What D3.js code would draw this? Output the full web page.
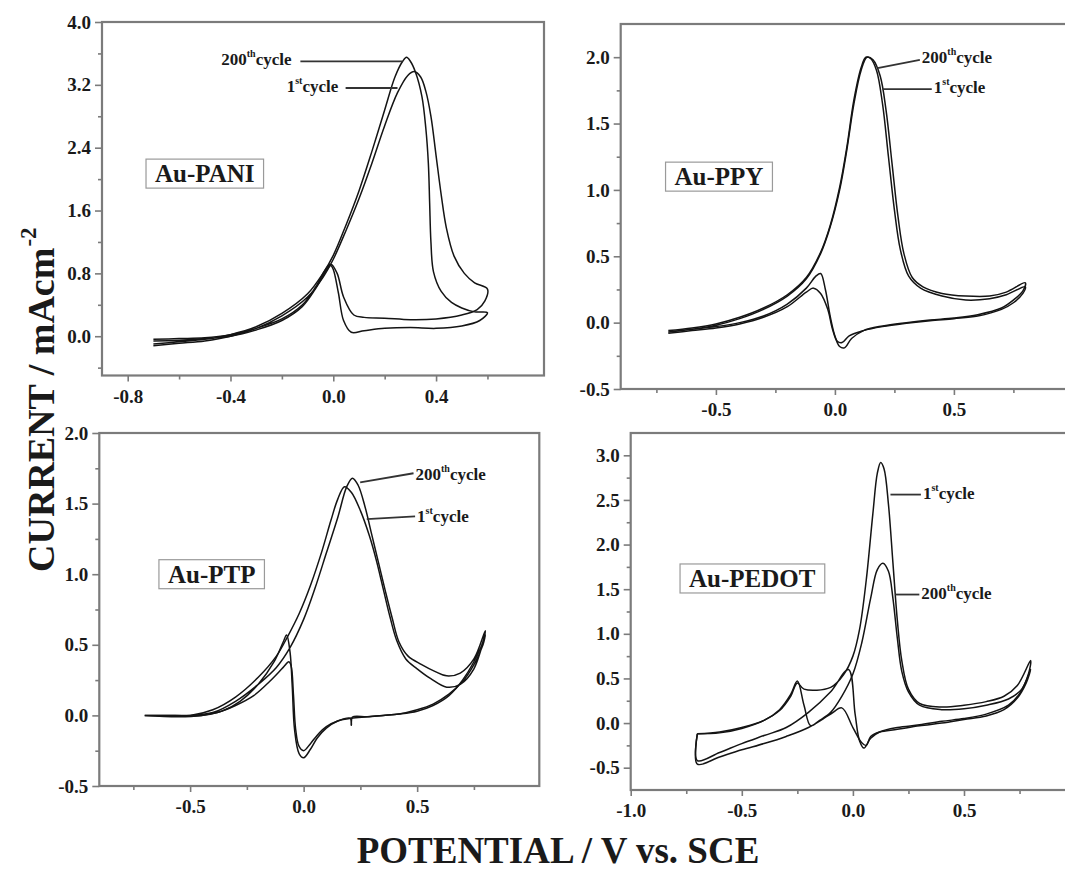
<!DOCTYPE html>
<html>
<head>
<meta charset="utf-8">
<script src="https://cdn.jsdelivr.net/npm/d3@7"></script>
<style>
  body { margin: 0; background: #fff; }
  svg { display: block; }
  text { font-family: "Liberation Serif", "Times New Roman", serif; font-weight: bold; fill: #1a1a1a; }
</style>
</head>
<body>
<svg id="chart" width="1065" height="873"></svg>
<script>
// ---- Cyclic voltammograms: [potential (V vs SCE), current (mA cm^-2)] ----
// Each cycle is traced as a closed loop: anodic sweep, then the return sweep.

const pani1st = [
  [-0.7,-0.12],[-0.6,-0.09],[-0.5,-0.06],[-0.4,0.0],[-0.3,0.1],[-0.2,0.26],[-0.1,0.5],[-0.04,0.75],
  [0.0,0.98],[0.05,1.35],[0.1,1.75],[0.15,2.2],[0.2,2.68],[0.25,3.1],[0.29,3.32],[0.315,3.37],
  [0.34,3.3],[0.36,3.12],[0.38,2.8],[0.4,2.3],[0.42,1.8],[0.44,1.38],[0.47,1.02],[0.51,0.8],
  [0.55,0.68],[0.6,0.6],
  [0.59,0.45],[0.56,0.34],[0.5,0.27],[0.4,0.22],[0.3,0.21],[0.2,0.23],[0.12,0.24],[0.08,0.27],
  [0.04,0.5],[0.015,0.8],[-0.01,0.92],[-0.03,0.85],[-0.07,0.62],[-0.12,0.4],[-0.2,0.22],
  [-0.3,0.1],[-0.4,0.02],[-0.5,-0.02],[-0.6,-0.03],[-0.7,-0.04]
];
const pani200th = [
  [-0.7,-0.1],[-0.6,-0.07],[-0.5,-0.04],[-0.4,0.02],[-0.3,0.12],[-0.2,0.29],[-0.1,0.54],[-0.04,0.8],
  [0.0,1.03],[0.05,1.42],[0.1,1.85],[0.15,2.35],[0.2,2.88],[0.24,3.3],[0.27,3.5],[0.285,3.55],
  [0.3,3.5],[0.32,3.36],[0.345,3.05],[0.36,2.65],[0.37,2.2],[0.375,1.7],[0.38,1.2],[0.39,0.82],
  [0.42,0.57],[0.46,0.43],[0.5,0.36],[0.55,0.31],[0.6,0.3],
  [0.57,0.2],[0.5,0.13],[0.4,0.1],[0.3,0.11],[0.2,0.1],[0.12,0.07],[0.07,0.05],[0.04,0.2],
  [0.02,0.55],[0.0,0.85],[-0.01,0.9],[-0.03,0.82],[-0.07,0.6],[-0.12,0.38],[-0.2,0.2],
  [-0.3,0.08],[-0.4,0.0],[-0.5,-0.03],[-0.6,-0.05],[-0.7,-0.06]
];

const ppy1st = [
  [-0.7,-0.07],[-0.6,-0.05],[-0.5,-0.02],[-0.4,0.03],[-0.3,0.1],[-0.2,0.2],[-0.12,0.33],[-0.06,0.52],
  [-0.02,0.72],[0.02,1.0],[0.05,1.3],[0.08,1.65],[0.11,1.9],[0.135,2.0],[0.16,1.98],[0.19,1.86],
  [0.215,1.6],[0.24,1.2],[0.265,0.8],[0.29,0.52],[0.325,0.34],[0.37,0.27],[0.45,0.22],[0.55,0.2],
  [0.65,0.2],[0.72,0.23],[0.8,0.3],
  [0.79,0.24],[0.75,0.17],[0.7,0.11],[0.6,0.06],[0.5,0.035],[0.4,0.02],[0.3,0.0],[0.2,-0.025],
  [0.12,-0.06],[0.07,-0.12],[0.04,-0.19],[0.02,-0.18],[0.0,-0.1],[-0.02,0.05],[-0.04,0.25],
  [-0.06,0.37],[-0.08,0.35],[-0.12,0.26],[-0.2,0.14],[-0.3,0.05],[-0.4,0.0],[-0.5,-0.03],
  [-0.6,-0.05],[-0.7,-0.07]
];
const ppy200th = [
  [-0.7,-0.06],[-0.6,-0.04],[-0.5,-0.01],[-0.4,0.04],[-0.3,0.11],[-0.2,0.21],[-0.12,0.34],[-0.06,0.53],
  [-0.02,0.73],[0.02,1.02],[0.05,1.32],[0.08,1.68],[0.11,1.92],[0.13,2.0],[0.15,1.99],[0.175,1.9],
  [0.2,1.65],[0.225,1.25],[0.25,0.85],[0.275,0.55],[0.31,0.35],[0.36,0.26],[0.45,0.2],[0.55,0.17],
  [0.65,0.18],[0.72,0.21],[0.8,0.27],
  [0.79,0.22],[0.75,0.15],[0.7,0.1],[0.6,0.05],[0.5,0.03],[0.4,0.015],[0.3,-0.005],[0.2,-0.03],
  [0.12,-0.06],[0.06,-0.1],[0.03,-0.15],[0.01,-0.14],[-0.01,-0.05],[-0.03,0.1],[-0.06,0.22],
  [-0.09,0.26],[-0.12,0.23],[-0.2,0.12],[-0.3,0.04],[-0.4,-0.01],[-0.5,-0.04],[-0.6,-0.06],
  [-0.7,-0.08]
];

const ptp1st = [
  [-0.7,0.0],[-0.6,0.0],[-0.5,0.0],[-0.4,0.04],[-0.3,0.13],[-0.2,0.27],[-0.12,0.42],[-0.07,0.56],
  [-0.02,0.72],[0.03,0.92],[0.08,1.16],[0.12,1.38],[0.15,1.53],[0.18,1.62],[0.21,1.58],[0.25,1.45],
  [0.29,1.27],[0.32,1.1],[0.35,0.9],[0.38,0.7],[0.41,0.53],[0.45,0.4],[0.5,0.33],[0.56,0.26],
  [0.63,0.2],[0.69,0.22],[0.75,0.33],[0.8,0.57],
  [0.79,0.5],[0.75,0.36],[0.7,0.24],[0.64,0.15],[0.57,0.08],[0.5,0.04],[0.42,0.01],[0.35,0.0],
  [0.28,-0.01],[0.21,-0.02],[0.15,-0.04],[0.1,-0.08],[0.06,-0.14],[0.03,-0.2],[0.0,-0.25],
  [-0.02,-0.22],[-0.035,-0.1],[-0.045,0.15],[-0.055,0.35],[-0.065,0.38],[-0.09,0.34],[-0.15,0.24],
  [-0.22,0.14],[-0.3,0.07],[-0.38,0.02],[-0.45,0.0],[-0.55,-0.005],[-0.7,0.0]
];
const ptp200th = [
  [-0.7,0.0],[-0.6,0.0],[-0.5,0.0],[-0.4,0.02],[-0.3,0.1],[-0.2,0.22],[-0.12,0.34],[-0.06,0.48],
  [0.0,0.68],[0.05,0.9],[0.1,1.15],[0.15,1.4],[0.19,1.62],[0.215,1.68],[0.24,1.63],[0.27,1.48],
  [0.3,1.28],[0.33,1.08],[0.36,0.88],[0.39,0.69],[0.42,0.52],[0.46,0.42],[0.52,0.36],[0.58,0.31],
  [0.63,0.28],[0.69,0.3],[0.75,0.4],[0.8,0.6],
  [0.79,0.52],[0.75,0.38],[0.7,0.25],[0.64,0.14],[0.57,0.07],[0.5,0.03],[0.42,0.01],[0.35,0.0],
  [0.28,-0.01],[0.215,-0.012],[0.21,-0.07],[0.205,-0.02],[0.15,-0.04],[0.1,-0.09],[0.06,-0.16],
  [0.03,-0.24],[0.0,-0.3],[-0.02,-0.27],[-0.04,-0.1],[-0.05,0.2],[-0.06,0.45],[-0.075,0.57],
  [-0.09,0.52],[-0.13,0.38],[-0.2,0.22],[-0.28,0.1],[-0.36,0.03],[-0.45,0.0],[-0.55,-0.01],[-0.7,0.0]
];

const pedot1st = [
  [-0.7,-0.12],[-0.6,-0.11],[-0.5,-0.06],[-0.4,0.03],[-0.33,0.14],[-0.28,0.3],[-0.25,0.45],
  [-0.22,0.38],[-0.1,0.4],[-0.04,0.55],[0.0,0.75],[0.03,1.05],[0.06,1.6],[0.09,2.35],[0.11,2.8],
  [0.125,2.92],[0.14,2.85],[0.16,2.45],[0.18,1.8],[0.2,1.15],[0.22,0.7],[0.25,0.38],[0.3,0.22],
  [0.4,0.18],[0.5,0.2],[0.6,0.24],[0.68,0.3],[0.74,0.42],[0.8,0.7],
  [0.79,0.55],[0.75,0.33],[0.7,0.2],[0.6,0.1],[0.5,0.05],[0.4,0.02],[0.3,-0.02],[0.2,-0.05],
  [0.12,-0.1],[0.08,-0.17],[0.05,-0.28],[0.03,-0.2],[0.01,0.1],[-0.02,0.6],[-0.1,0.35],
  [-0.2,0.12],[-0.3,-0.05],[-0.4,-0.14],[-0.5,-0.23],[-0.6,-0.33],[-0.7,-0.42],[-0.7,-0.12]
];
const pedot200th = [
  [-0.7,-0.12],[-0.6,-0.1],[-0.5,-0.05],[-0.4,0.03],[-0.33,0.15],[-0.28,0.32],[-0.25,0.47],
  [-0.22,0.2],[-0.19,-0.03],[-0.15,0.03],[-0.1,0.12],[-0.05,0.3],[0.0,0.55],[0.04,0.9],
  [0.08,1.4],[0.11,1.72],[0.135,1.79],[0.16,1.7],[0.18,1.4],[0.2,0.95],[0.22,0.58],[0.25,0.35],
  [0.3,0.2],[0.4,0.15],[0.5,0.16],[0.6,0.2],[0.7,0.27],[0.76,0.38],[0.8,0.6],
  [0.78,0.45],[0.74,0.28],[0.68,0.15],[0.6,0.08],[0.5,0.04],[0.4,0.0],[0.3,-0.03],[0.2,-0.07],
  [0.12,-0.1],[0.08,-0.15],[0.06,-0.25],[0.04,-0.22],[0.0,-0.05],[-0.05,0.17],[-0.1,0.1],
  [-0.2,-0.05],[-0.3,-0.15],[-0.4,-0.23],[-0.5,-0.3],[-0.6,-0.38],[-0.7,-0.46],[-0.7,-0.12]
];

// ---- Tick values ----
const paniXTicks = [-0.8, -0.4, 0.0, 0.4];
const paniXMinor = [-0.6, -0.2, 0.2, 0.6];
const paniYTicks = [0.0, 0.8, 1.6, 2.4, 3.2, 4.0];
const paniYMinor = [-0.4, 0.4, 1.2, 2.0, 2.8, 3.6];

const ppyXTicks = [-0.5, 0.0, 0.5];
const ppyXMinor = [-0.75, -0.25, 0.25, 0.75];
const ppyYTicks = [-0.5, 0.0, 0.5, 1.0, 1.5, 2.0];
const ppyYMinor = [-0.25, 0.25, 0.75, 1.25, 1.75];

const ptpXTicks = [-0.5, 0.0, 0.5];
const ptpXMinor = [-0.75, -0.25, 0.25, 0.75];
const ptpYTicks = [-0.5, 0.0, 0.5, 1.0, 1.5, 2.0];
const ptpYMinor = [-0.25, 0.25, 0.75, 1.25, 1.75];

const pedotXTicks = [-1.0, -0.5, 0.0, 0.5];
const pedotXMinor = [-0.75, -0.25, 0.25, 0.75];
const pedotYTicks = [-0.5, 0.0, 0.5, 1.0, 1.5, 2.0, 2.5, 3.0];
const pedotYMinor = [-0.25, 0.25, 0.75, 1.25, 1.75, 2.25, 2.75];

// ---- Cycle call-outs: text anchor and leader line, in data units ----
const paniNotes = [
  { main: "200", sup: "th", at: [-0.147, 3.45], anchor: "end", from: [-0.128, 3.5], to: [0.269, 3.5] },
  { main: "1", sup: "st", at: [0.035, 3.11], anchor: "end", from: [0.048, 3.16], to: [0.25, 3.16] }
];
const ppyNotes = [
  { main: "200", sup: "th", at: [0.357, 1.955], anchor: "start", from: [0.179, 1.917], to: [0.357, 1.98] },
  { main: "1", sup: "st", at: [0.407, 1.73], anchor: "start", from: [0.2, 1.76], to: [0.407, 1.76] }
];
const ptpNotes = [
  { main: "200", sup: "th", at: [0.484, 1.667], anchor: "start", from: [0.249, 1.65], to: [0.484, 1.715] },
  { main: "1", sup: "st", at: [0.491, 1.37], anchor: "start", from: [0.278, 1.39], to: [0.491, 1.41] }
];
const pedotNotes = [
  { main: "1", sup: "st", at: [0.306, 2.51], anchor: "start", from: [0.169, 2.56], to: [0.306, 2.56] },
  { main: "200", sup: "th", at: [0.299, 1.386], anchor: "start", from: [0.19, 1.44], to: [0.299, 1.44] }
];

// ---- Panel layout (pixel frames) ----
const panels = [
  { name: "Au-PANI", cycles: [pani1st, pani200th], notes: paniNotes,
    xDomain: [-0.9, 0.82], yDomain: [-0.5, 4.0], left: 102, right: 544, top: 22, bottom: 375.5,
    xTicks: paniXTicks, xMinor: paniXMinor, yTicks: paniYTicks, yMinor: paniYMinor, tag: [-0.5, 2.07] },
  { name: "Au-PPY", cycles: [ppy1st, ppy200th], notes: ppyNotes,
    xDomain: [-0.9, 1.0], yDomain: [-0.5, 2.25], left: 620.7, right: 1072.9, top: 24, bottom: 389,
    xTicks: ppyXTicks, xMinor: ppyXMinor, yTicks: ppyYTicks, yMinor: ppyYMinor, tag: [-0.487, 1.1] },
  { name: "Au-PTP", cycles: [ptp1st, ptp200th], notes: ptpNotes,
    xDomain: [-0.9, 1.038], yDomain: [-0.5, 2.0], left: 99.3, right: 539.3, top: 433, bottom: 786,
    xTicks: ptpXTicks, xMinor: ptpXMinor, yTicks: ptpYTicks, yMinor: ptpYMinor, tag: [-0.405, 1.0] },
  { name: "Au-PEDOT", cycles: [pedot1st, pedot200th], notes: pedotNotes,
    xDomain: [-1.0, 1.0], yDomain: [-0.75, 3.25], left: 630.7, right: 1075.1, top: 433, bottom: 790,
    xTicks: pedotXTicks, xMinor: pedotXMinor, yTicks: pedotYTicks, yMinor: pedotYMinor, tag: [-0.453, 1.62] }
];

const AXIS = "#7b7b7b";
const INK = "#141414";
const fmt = v => v.toFixed(1);
const svg = d3.select("#chart");
svg.append("rect").attr("width", 1065).attr("height", 873).attr("fill", "#fff");

function styleAxis(sel, fontSize) {
  sel.select(".domain").remove();
  sel.selectAll(".tick line").attr("stroke", AXIS).attr("stroke-width", 1.6);
  sel.selectAll(".tick text")
    .attr("font-size", fontSize)
    .attr("font-family", "Liberation Serif, Times New Roman, serif")
    .attr("font-weight", "bold")
    .attr("fill", "#222");
}

panels.forEach(p => {
  const x = d3.scaleLinear().domain(p.xDomain).range([p.left, p.right]);
  const y = d3.scaleLinear().domain(p.yDomain).range([p.bottom, p.top]);
  const g = svg.append("g").attr("class", "panel");

  // minor ticks
  g.append("g").attr("transform", `translate(0,${p.bottom})`)
    .call(d3.axisBottom(x).tickValues(p.xMinor).tickSize(4).tickFormat(""))
    .call(s => styleAxis(s, 0));
  g.append("g").attr("transform", `translate(${p.left},0)`)
    .call(d3.axisLeft(y).tickValues(p.yMinor).tickSize(4).tickFormat(""))
    .call(s => styleAxis(s, 0));

  // major ticks with labels
  g.append("g").attr("transform", `translate(0,${p.bottom})`)
    .call(d3.axisBottom(x).tickValues(p.xTicks).tickSize(6).tickPadding(8).tickFormat(fmt))
    .call(s => styleAxis(s, 19));
  g.append("g").attr("transform", `translate(${p.left},0)`)
    .call(d3.axisLeft(y).tickValues(p.yTicks).tickSize(7).tickPadding(4).tickFormat(fmt))
    .call(s => styleAxis(s, 19));

  // frame
  g.append("rect")
    .attr("x", p.left).attr("y", p.top)
    .attr("width", p.right - p.left).attr("height", p.bottom - p.top)
    .attr("fill", "none").attr("stroke", AXIS).attr("stroke-width", 2.2);

  // voltammograms
  const line = d3.line()
    .x(d => x(d[0])).y(d => y(d[1]))
    .curve(d3.curveCatmullRom.alpha(0.5));
  g.selectAll("path.cv").data(p.cycles).join("path")
    .attr("class", "cv")
    .attr("d", line)
    .attr("fill", "none")
    .attr("stroke", INK)
    .attr("stroke-width", 1.5)
    .attr("stroke-linejoin", "round");

  // cycle call-outs
  p.notes.forEach(n => {
    g.append("line")
      .attr("x1", x(n.from[0])).attr("y1", y(n.from[1]))
      .attr("x2", x(n.to[0])).attr("y2", y(n.to[1]))
      .attr("stroke", "#333").attr("stroke-width", 1.8);
    const t = g.append("text")
      .attr("x", x(n.at[0]) + (n.anchor === "start" ? 2 : -4))
      .attr("y", y(n.at[1]))
      .attr("text-anchor", n.anchor)
      .attr("font-size", 17);
    t.append("tspan").text(n.main);
    t.append("tspan").attr("font-size", 10).attr("dy", -8).text(n.sup);
    t.append("tspan").attr("dy", 8).text("cycle");
  });

  // sample tag in a box
  const tag = g.append("text")
    .attr("x", x(p.tag[0])).attr("y", y(p.tag[1]))
    .attr("text-anchor", "middle")
    .attr("dominant-baseline", "central")
    .attr("font-size", 25)
    .text(p.name);
  const bb = tag.node().getBBox();
  g.insert("rect", () => tag.node())
    .attr("x", bb.x - 9).attr("y", bb.y - 1)
    .attr("width", bb.width + 18).attr("height", bb.height + 2)
    .attr("fill", "#fff").attr("stroke", "#9a9a9a").attr("stroke-width", 1.2);
});

// shared axis titles
const yTitle = svg.append("text")
  .attr("transform", "translate(54,572) rotate(-90)")
  .attr("text-anchor", "start")
  .attr("font-size", 38);
yTitle.append("tspan").text("CURRENT / mAcm");
yTitle.append("tspan").attr("font-size", 23).attr("dx", 1).attr("dy", -18).text("-2");

svg.append("text")
  .attr("x", 558).attr("y", 863)
  .attr("text-anchor", "middle")
  .attr("font-size", 37)
  .text("POTENTIAL / V vs. SCE");
</script>
</body>
</html>
